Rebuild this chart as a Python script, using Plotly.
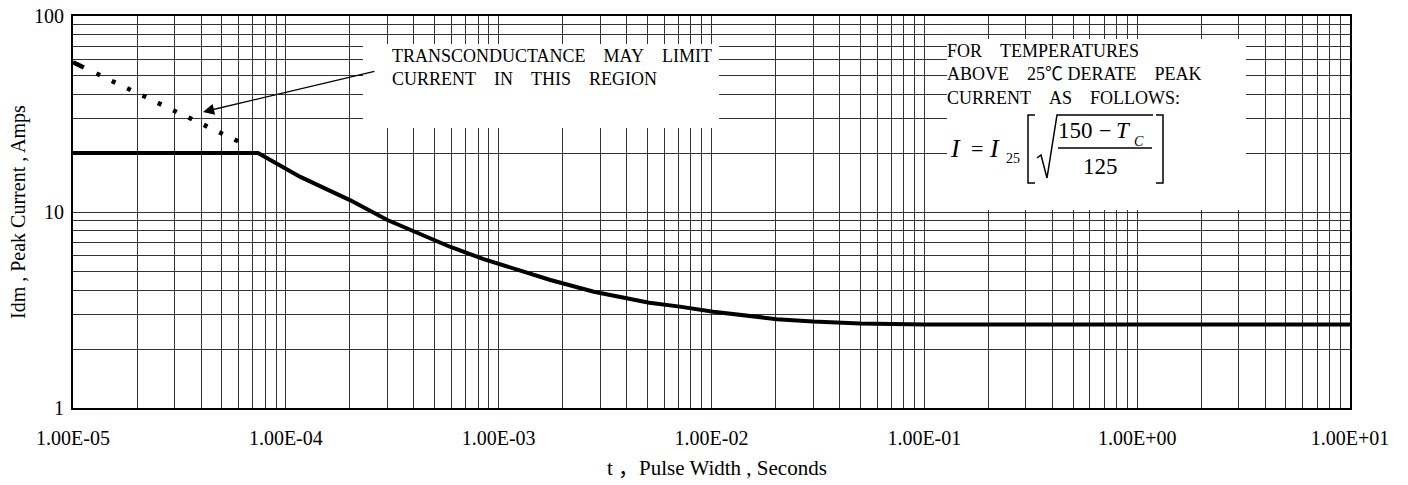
import plotly.graph_objects as go
import math

# ---------------- data ----------------
t_curve = [1e-5, 7.4e-5, 1.17e-4, 2.0e-4, 3.0e-4, 5.9e-4, 8.5e-4, 1.22e-3, 1.75e-3,
           2.8e-3, 5.1e-3, 7.1e-3, 1.02e-2, 2.03e-2, 3.0e-2, 5.0e-2, 1.0e-1, 1e1]
idm_curve = [20, 20, 15.1, 11.5, 9.1, 6.65, 5.75, 5.06, 4.50,
             3.92, 3.44, 3.29, 3.10, 2.84, 2.76, 2.70, 2.67, 2.67]

t_limit = [1e-5, 6.2e-5]
idm_limit = [58, 22.5]

x_decades = [1e-5, 1e-4, 1e-3, 1e-2, 1e-1, 1e0, 1e1]
x_tick_labels = ["1.00E-05", "1.00E-04", "1.00E-03", "1.00E-02",
                 "1.00E-01", "1.00E+00", "1.00E+01"]
y_decades = [1, 10, 100]
y_tick_labels = ["1", "10", "100"]
grid_multipliers = [1, 2, 3, 4, 5, 6, 7, 8, 9]

arrow_tip = (4.08e-5, 32.4)
arrow_tail = (2.65e-4, 52.4)

x_title = "t \uff0cPulse Width , Seconds"
y_title = "Idm , Peak Current , Amps"
note1 = ["TRANSCONDUCTANCE    MAY    LIMIT", "CURRENT    IN    THIS    REGION"]
note2 = ["FOR    TEMPERATURES", "ABOVE    25\u2103 DERATE    PEAK", "CURRENT    AS    FOLLOWS:"]

# ---------------- helpers ----------------
FONT = "Liberation Serif, Times New Roman, Noto Sans CJK SC, serif"
L, R, T, B = 73, 1350, 16, 408      # plot area in page pixels
W, H = 1408, 485


def px(x):
    return (x - L) / (R - L)


def py(y):
    return (B - y) / (B - T)


def nb(s):
    return s.replace(" ", "\u00a0")


def grid_vals(decades):
    vals = []
    for i, d in enumerate(decades):
        if i == len(decades) - 1:
            vals.append(d)
        else:
            vals += [d * m for m in grid_multipliers]
    return vals


x_grid = grid_vals(x_decades)
y_grid = grid_vals(y_decades)
x_text = [x_tick_labels[x_decades.index(v)] if v in x_decades else "" for v in x_grid]
y_text = [y_tick_labels[y_decades.index(v)] if v in y_decades else "" for v in y_grid]

fig = go.Figure()
fig.add_trace(go.Scatter(x=t_limit, y=idm_limit, mode="lines",
                         line=dict(color="black", width=4.5,
                                   dash="12px,14px" + ",4px,13px" * 12),
                         hoverinfo="skip", showlegend=False))
fig.add_trace(go.Scatter(x=t_curve, y=idm_curve, mode="lines",
                         line=dict(color="black", width=4),
                         showlegend=False))

shapes = []
for (x0, x1, y0, y1) in [(363, 719, 44, 128), (947, 1246, 39, 210)]:
    shapes.append(dict(type="rect", xref="paper", yref="paper",
                       x0=px(x0), x1=px(x1), y0=py(y1), y1=py(y0),
                       fillcolor="white", line=dict(width=0), layer="above"))


def path(points):
    return "M " + " L ".join(f"{px(a):.5f},{py(b):.5f}" for a, b in points)


for pts in [
    [(1035, 115), (1028, 115), (1028, 183), (1035, 183)],
    [(1156, 115), (1163, 115), (1163, 183), (1156, 183)],
    [(1037, 158), (1041, 155), (1047, 178), (1057, 115), (1153, 115)],
    [(1058, 148), (1152, 148)],
]:
    shapes.append(dict(type="path", xref="paper", yref="paper", path=path(pts),
                       line=dict(color="black", width=1.5), layer="above"))

ann = []


def text(s, x, y, size, xanchor="left", align="left"):
    ann.append(dict(text=s, x=px(x), y=py(y), xref="paper", yref="paper",
                    xanchor=xanchor, yanchor="middle", showarrow=False, align=align,
                    font=dict(family=FONT, size=size, color="black")))


text("<br>".join(nb(s) for s in note1), 390, 67.5, 18)
text("<br>".join(nb(s) for s in note2), 945, 74, 18)

# formula
text("<i>I</i>", 948, 148, 26)
text("=", 977, 148, 22, xanchor="center")
text("<i>I</i>", 987, 148, 26)
text("25", 1004, 158, 14)
text("150", 1056, 130, 23)
text("\u2212", 1105, 130, 22, xanchor="center")
text("<i>T</i>", 1114, 130, 23)
text("<i>C</i>", 1132, 141, 14)
text("125", 1100, 166, 23, xanchor="center")

# axis titles
text(x_title, (L + R) / 2 + 5, 468, 21, xanchor="center")
ann.append(dict(text=y_title, x=px(18), y=py(212), xref="paper", yref="paper",
                xanchor="center", yanchor="middle", showarrow=False, textangle=-90,
                font=dict(family=FONT, size=20, color="black")))

# arrow
ann.append(dict(text="", x=math.log10(arrow_tip[0]), y=math.log10(arrow_tip[1]),
                ax=math.log10(arrow_tail[0]), ay=math.log10(arrow_tail[1]),
                xref="x", yref="y", axref="x", ayref="y", showarrow=True,
                arrowhead=2, arrowsize=1.6, arrowwidth=1.4, arrowcolor="black",
                standoff=0, startstandoff=0))

axis_common = dict(type="log", showgrid=True, gridcolor="#333333", gridwidth=1,
                   zeroline=False, showline=True, linecolor="black", linewidth=2,
                   mirror=True, ticks="", automargin=False, ticklabeloverflow="allow",
                   tickfont=dict(family=FONT, size=20, color="black"))

fig.update_layout(
    width=W, height=H,
    margin=dict(l=L, r=W - R, t=T, b=H - B, pad=0),
    paper_bgcolor="white", plot_bgcolor="white",
    xaxis=dict(range=[-5, 1], tickmode="array", tickvals=x_grid, ticktext=x_text,
               ticklabelstandoff=11, **axis_common),
    yaxis=dict(range=[0, 2], tickmode="array", tickvals=y_grid, ticktext=y_text,
               ticklabelstandoff=3, **axis_common),
    shapes=shapes, annotations=ann, showlegend=False,
)

fig.write_html("out.html", config={"displayModeBar": False},
               post_script="document.body.style.margin='0';")
